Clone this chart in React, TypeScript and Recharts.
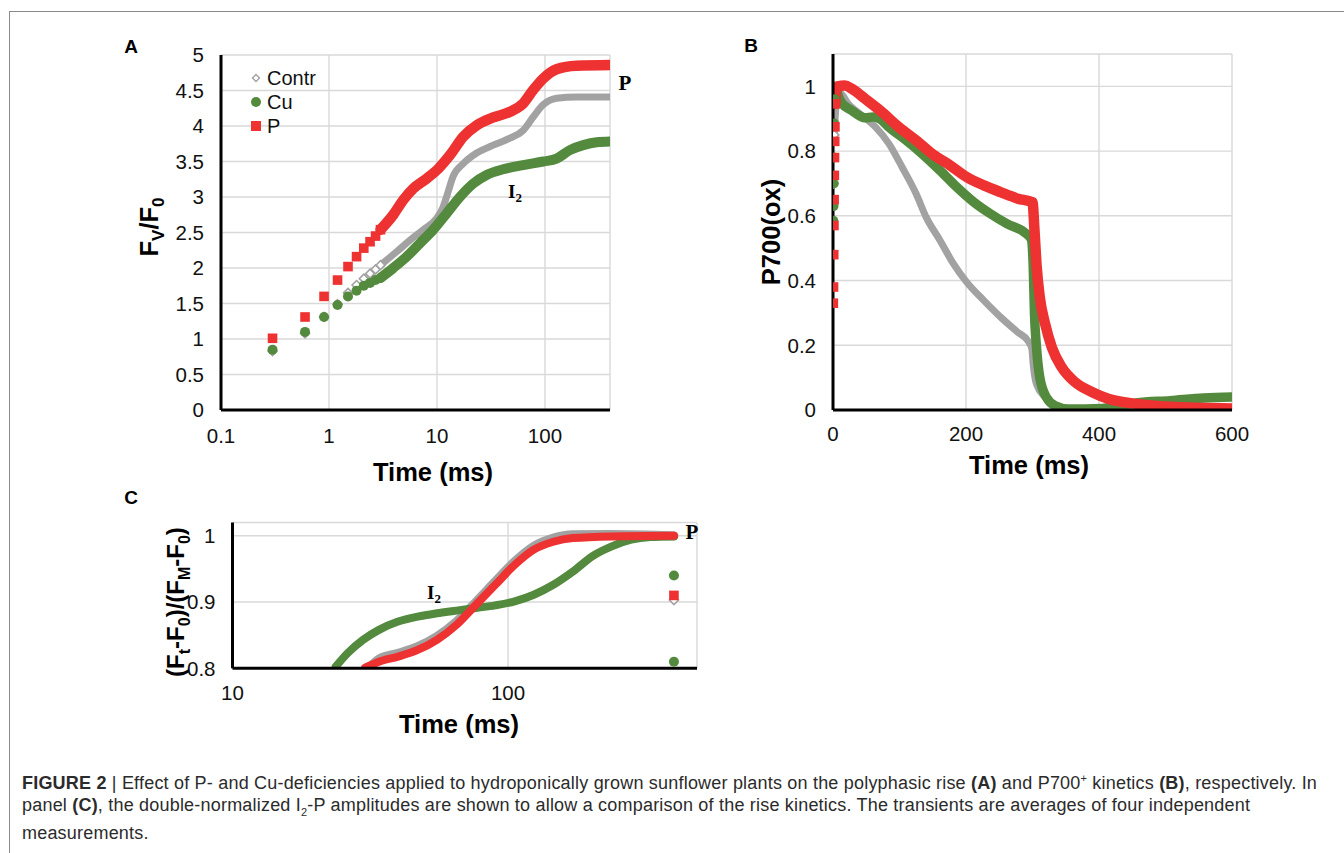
import React from 'react';
import { ComposedChart, Line, Scatter, XAxis, YAxis, CartesianGrid, Legend } from 'recharts';

const RED = '#ee3131';
const GREEN = '#538a3e';
const GRAY = '#a2a2a2';
const GRID = '#d9d9d9';
const FONT = '"Liberation Sans", Arial, Helvetica, sans-serif';
const SERIF = '"Liberation Serif", "Times New Roman", serif';

// ---------- Panel A : Fv/F0 vs time (log) ----------
const aTicksX = [0.1, 1, 10, 100];
const aTicksY = [0, 0.5, 1, 1.5, 2, 2.5, 3, 3.5, 4, 4.5, 5];
const aEarlyTime = [0.3, 0.6, 0.9, 1.2, 1.5, 1.8, 2.1, 2.4, 2.7, 3.0];
const aEarlyContr = [0.83, 1.08, 1.31, 1.49, 1.65, 1.76, 1.85, 1.92, 1.98, 2.04];
const aEarlyCu = [0.85, 1.1, 1.31, 1.48, 1.6, 1.68, 1.75, 1.79, 1.83, 1.86];
const aEarlyP = [1.01, 1.31, 1.6, 1.83, 2.02, 2.16, 2.28, 2.37, 2.45, 2.54];
const aContrCurve: [number, number][] = [
  [3.0, 2.04], [4.24, 2.23], [5.62, 2.39], [7.47, 2.54], [9.93, 2.7], [11.4, 2.86], [12.6, 3.06],
  [14.1, 3.29], [17.5, 3.47], [23.3, 3.62], [33.2, 3.73], [47.4, 3.83], [63, 3.94], [78, 4.13],
  [96.4, 4.3], [128, 4.39], [196, 4.41], [400, 4.41],
];
const aCuCurve: [number, number][] = [
  [3.0, 1.86], [3.94, 2.0], [5.24, 2.16], [6.97, 2.35], [9.25, 2.54], [12.3, 2.77], [16.3, 3.0],
  [21.7, 3.19], [28.8, 3.31], [41.1, 3.39], [63, 3.45], [96.4, 3.5], [128, 3.54], [170, 3.66],
  [226, 3.73], [301, 3.77], [400, 3.78],
];
const aPCurve: [number, number][] = [
  [3.0, 2.54], [3.94, 2.75], [4.88, 2.96], [6.04, 3.12], [8.03, 3.26], [10.3, 3.4], [13.2, 3.59],
  [17.5, 3.85], [23.3, 4.01], [33.2, 4.12], [47.4, 4.2], [63, 4.32], [78, 4.51], [96.4, 4.67],
  [128, 4.8], [196, 4.85], [400, 4.86],
];

// ---------- Panel B : P700(ox) vs time ----------
const bTicksX = [0, 200, 400, 600];
const bTicksY = [0, 0.2, 0.4, 0.6, 0.8, 1];
const bContrRise: [number, number][] = [[1.0, 0.7], [2.0, 0.85]];
const bCuRise: [number, number][] = [[0.5, 0.585], [0.8, 0.63], [1.1, 0.7], [1.4, 0.78], [1.8, 0.885], [2.5, 0.96]];
const bPRise: [number, number][] = [
  [0.5, 0.33], [0.8, 0.38], [1.1, 0.48], [1.4, 0.57], [1.7, 0.65], [2.0, 0.725], [2.3, 0.78],
  [2.6, 0.83], [2.9, 0.875], [3.5, 0.946],
];
const bContrCurve: [number, number][] = [
  [2, 0.85], [5, 0.95], [10, 0.98], [23, 0.946], [48, 0.903], [64, 0.874], [84, 0.823], [104, 0.75],
  [125, 0.668], [140, 0.596], [161, 0.524], [181, 0.452], [201, 0.395], [227, 0.338], [252, 0.287],
  [278, 0.24], [293, 0.214], [299, 0.19], [301, 0.142], [306, 0.08], [319, 0.039], [334, 0.008],
  [349, 0.0], [600, 0.0],
];
const bCuCurve: [number, number][] = [
  [2.5, 0.96], [3.6, 1.0], [8, 0.97], [12.7, 0.95], [28, 0.926], [48, 0.903], [60, 0.905], [70, 0.9],
  [84, 0.874], [110, 0.833], [135, 0.79], [161, 0.74], [186, 0.689], [212, 0.642], [237, 0.606],
  [262, 0.575], [288, 0.549], [298, 0.529], [301, 0.45], [303, 0.297], [306, 0.194], [311, 0.1],
  [321, 0.039], [334, 0.013], [354, 0.003], [405, 0.005], [456, 0.022], [507, 0.029], [558, 0.037],
  [600, 0.04],
];
const bPCurve: [number, number][] = [
  [3.5, 0.946], [4.5, 0.99], [7.6, 1.0], [17.8, 1.003], [28, 0.993], [48, 0.962], [74, 0.92],
  [99, 0.874], [125, 0.833], [150, 0.79], [176, 0.756], [201, 0.72], [227, 0.694], [252, 0.673],
  [278, 0.653], [300, 0.642], [303, 0.555], [306, 0.45], [311, 0.348], [319, 0.266], [329, 0.194],
  [344, 0.132], [364, 0.086], [390, 0.055], [415, 0.034], [456, 0.019], [507, 0.01], [600, 0.005],
];

// ---------- Panel C : double-normalized I2-P ----------
const cTicksX = [10, 100];
const cTicksY = [0.8, 0.9, 1];
const cContrCurve: [number, number][] = [
  [31.2, 0.8], [34, 0.814], [39.9, 0.8227], [47, 0.8327], [55.2, 0.848], [65, 0.8705], [76.4, 0.9],
  [89.9, 0.931], [105.7, 0.961], [124, 0.984], [146, 0.9965], [172, 1.0015], [238, 1.002], [400, 1.0],
];
const cCuCurve: [number, number][] = [
  [23.7, 0.8025], [26.2, 0.823], [29.8, 0.843], [34, 0.858], [39.9, 0.8705], [47, 0.878], [55.2, 0.883],
  [65, 0.887], [76.4, 0.891], [89.9, 0.895], [105.7, 0.901], [124, 0.911], [146, 0.926], [172, 0.946],
  [202, 0.969], [238, 0.984], [280, 0.994], [329, 0.998], [400, 0.999],
];
const cPCurve: [number, number][] = [
  [30.3, 0.801], [34, 0.81], [39.9, 0.8176], [47, 0.8277], [55.2, 0.843], [65, 0.8655], [76.4, 0.8957],
  [89.9, 0.926], [105.7, 0.956], [124, 0.979], [146, 0.991], [172, 0.9965], [238, 0.999], [400, 1.0],
];
const cContrExtra: [number, number][] = [[400, 0.903]];
const cCuExtra: [number, number][] = [[400, 0.94], [400, 0.81]];
const cPExtra: [number, number][] = [[400, 0.91]];

const toPts = (arr: [number, number][]) => arr.map(([t, v]) => ({ t, v }));
const zipPts = (ts: number[], vs: number[]) => ts.map((t, i) => ({ t, v: vs[i] }));

const tickStyle = { fill: '#111', fontSize: 20.5, fontFamily: FONT };
const axisLineStyle = { stroke: '#000', strokeWidth: 3 };

const DiamondShape = (props: any) => {
  const { cx, cy } = props;
  if (cx == null || cy == null) return null;
  const r = 4.5;
  return <path d={`M${cx},${cy - r}L${cx + r},${cy}L${cx},${cy + r}L${cx - r},${cy}Z`} fill="#fff" stroke={GRAY} strokeWidth={1.6} />;
};
const CircleShape = (props: any) => {
  const { cx, cy } = props;
  if (cx == null || cy == null) return null;
  return <circle cx={cx} cy={cy} r={5} fill={GREEN} />;
};
const SquareShape = (props: any) => {
  const { cx, cy } = props;
  if (cx == null || cy == null) return null;
  return <rect x={cx - 4.8} y={cy - 4.8} width={9.6} height={9.6} fill={RED} />;
};

const LegendA = () => (
  <div style={{ fontFamily: FONT, fontSize: 20, color: '#111', lineHeight: '24px' }}>
    {[
      { name: 'Contr', m: <path d="M6,2.5L9.5,6L6,9.5L2.5,6Z" fill="#fff" stroke={GRAY} strokeWidth={1.4} /> },
      { name: 'Cu', m: <circle cx={6} cy={6} r={5} fill={GREEN} /> },
      { name: 'P', m: <rect x={1} y={1} width={10} height={10} fill={RED} /> },
    ].map((it) => (
      <div key={it.name} style={{ display: 'flex', alignItems: 'center', height: 24 }}>
        <svg width={12} height={12} style={{ marginRight: 5 }}>{it.m}</svg>
        <span>{it.name}</span>
      </div>
    ))}
  </div>
);

const lineProps = { type: 'monotone' as const, dot: false, activeDot: false, isAnimationActive: false, strokeLinecap: 'round' as const, strokeLinejoin: 'round' as const };

const captionStyle: React.CSSProperties = {
  position: 'absolute', left: 22, fontFamily: FONT, fontSize: 18, letterSpacing: 0.2,
  color: '#2b2b2b', lineHeight: '20px', whiteSpace: 'nowrap',
};

export default function App() {
  return (
    <div style={{ position: 'absolute', left: 0, top: 0, width: 1344, height: 853, background: '#fff', overflow: 'hidden' }}>
      {/* frame */}
      <div style={{ position: 'absolute', left: 9, top: 11, width: 1340, height: 850, borderTop: '1.5px solid #8a8a8a', borderLeft: '1.5px solid #8a8a8a' }} />

      {/* Panel A */}
      <div style={{ position: 'absolute', left: 100, top: 30 }}>
        <ComposedChart width={560} height={470} margin={{ top: 25, right: 50, bottom: 30, left: 61 }}>
          <CartesianGrid stroke={GRID} strokeWidth={1.4} />
          <XAxis dataKey="t" type="number" scale="log" domain={[0.1, 400]} ticks={aTicksX} allowDataOverflow
            axisLine={axisLineStyle} tickLine={false} tickSize={0} tickMargin={18} tick={tickStyle} height={60} />
          <YAxis type="number" domain={[0, 5]} ticks={aTicksY} allowDataOverflow axisLine={axisLineStyle}
            tickLine={false} tickSize={0} tickMargin={17} tick={tickStyle} width={60} />
          <Legend layout="vertical" align="center" verticalAlign="middle" content={LegendA}
            wrapperStyle={{ left: 150, top: 35.7, width: 120, height: 75 }} />
          <Scatter name="Contr" data={zipPts(aEarlyTime, aEarlyContr)} dataKey="v" shape={DiamondShape} isAnimationActive={false} legendType="diamond" />
          <Line name="Contr" data={toPts(aContrCurve)} dataKey="v" stroke={GRAY} strokeWidth={7} {...lineProps} legendType="none" />
          <Scatter name="Cu" data={zipPts(aEarlyTime, aEarlyCu)} dataKey="v" shape={CircleShape} isAnimationActive={false} legendType="circle" />
          <Line name="Cu" data={toPts(aCuCurve)} dataKey="v" stroke={GREEN} strokeWidth={10} {...lineProps} legendType="none" />
          <Scatter name="P" data={zipPts(aEarlyTime, aEarlyP)} dataKey="v" shape={SquareShape} isAnimationActive={false} legendType="square" />
          <Line name="P" data={toPts(aPCurve)} dataKey="v" stroke={RED} strokeWidth={10.5} {...lineProps} legendType="none" />
        </ComposedChart>
      </div>

      {/* Panel B */}
      <div style={{ position: 'absolute', left: 700, top: 20 }}>
        <ComposedChart width={600} height={480} margin={{ top: 34, right: 68, bottom: 30, left: 73 }}>
          <CartesianGrid stroke={GRID} strokeWidth={1.4} />
          <XAxis dataKey="t" type="number" domain={[0, 600]} ticks={bTicksX} allowDataOverflow
            axisLine={axisLineStyle} tickLine={false} tickSize={0} tickMargin={16} tick={tickStyle} height={60} />
          <YAxis type="number" domain={[0, 1.1]} ticks={bTicksY} allowDataOverflow axisLine={axisLineStyle}
            tickLine={false} tickSize={0} tickMargin={17} tick={tickStyle} width={60} />
          <Line name="Contr" data={toPts(bContrCurve)} dataKey="v" stroke={GRAY} strokeWidth={7} {...lineProps} />
          <Scatter name="Contr" data={toPts(bContrRise)} dataKey="v" shape={DiamondShape} isAnimationActive={false} />
          <Line name="Cu" data={toPts(bCuCurve)} dataKey="v" stroke={GREEN} strokeWidth={9.5} {...lineProps} />
          <Scatter name="Cu" data={toPts(bCuRise)} dataKey="v" shape={CircleShape} isAnimationActive={false} />
          <Line name="P" data={toPts(bPCurve)} dataKey="v" stroke={RED} strokeWidth={10.5} {...lineProps} />
          <Scatter name="P" data={toPts(bPRise)} dataKey="v" shape={SquareShape} isAnimationActive={false} />
        </ComposedChart>
      </div>

      {/* Panel C */}
      <div style={{ position: 'absolute', left: 100, top: 500 }}>
        <ComposedChart width={620} height={240} margin={{ top: 22.5, right: 23, bottom: 21.7, left: 72.5 }}>
          <CartesianGrid stroke={GRID} strokeWidth={1.4} />
          <XAxis dataKey="t" type="number" scale="log" domain={[10, 485]} ticks={cTicksX} allowDataOverflow
            axisLine={axisLineStyle} tickLine={false} tickSize={0} tickMargin={17} tick={tickStyle} height={50} />
          <YAxis type="number" domain={[0.8, 1.02]} ticks={cTicksY} allowDataOverflow axisLine={axisLineStyle}
            tickLine={false} tickSize={0} tickMargin={17} tick={tickStyle} width={60} />
          <Line name="Contr" data={toPts(cContrCurve)} dataKey="v" stroke={GRAY} strokeWidth={9} {...lineProps} />
          <Scatter name="Contr" data={toPts(cContrExtra)} dataKey="v" shape={DiamondShape} isAnimationActive={false} />
          <Line name="Cu" data={toPts(cCuCurve)} dataKey="v" stroke={GREEN} strokeWidth={8} {...lineProps} />
          <Scatter name="Cu" data={toPts(cCuExtra)} dataKey="v" shape={CircleShape} isAnimationActive={false} />
          <Line name="P" data={toPts(cPCurve)} dataKey="v" stroke={RED} strokeWidth={8} {...lineProps} />
          <Scatter name="P" data={toPts(cPExtra)} dataKey="v" shape={SquareShape} isAnimationActive={false} />
        </ComposedChart>
      </div>

      {/* titles, panel letters, annotations */}
      <svg width={1344} height={853} style={{ position: 'absolute', left: 0, top: 0, pointerEvents: 'none' }}>
        <g fontFamily={FONT} fontWeight="bold" fill="#000">
          <text x={131} y={53} fontSize={19} textAnchor="middle">A</text>
          <text x={751} y={52} fontSize={19} textAnchor="middle">B</text>
          <text x={131} y={504} fontSize={19} textAnchor="middle">C</text>

          <text x={433} y={481} fontSize={25.5} textAnchor="middle">Time (ms)</text>
          <text x={1029} y={474} fontSize={25.5} textAnchor="middle">Time (ms)</text>
          <text x={459} y={733} fontSize={25.5} textAnchor="middle">Time (ms)</text>

          <text x={158} y={227} fontSize={25.5} textAnchor="middle" transform="rotate(-90 158 227)">
            F<tspan dy={6} fontSize={17}>V</tspan><tspan dy={-6}>/F</tspan><tspan dy={6} fontSize={17}>0</tspan>
          </text>
          <text x={780} y={232} fontSize={25.5} textAnchor="middle" transform="rotate(-90 780 232)">P700(ox)</text>
          <text x={184} y={602} fontSize={24} textAnchor="middle" transform="rotate(-90 184 602)">
            (F<tspan dy={6} fontSize={16}>t</tspan><tspan dy={-6}>-F</tspan><tspan dy={6} fontSize={16}>0</tspan><tspan dy={-6}>)/(F</tspan><tspan dy={6} fontSize={16}>M</tspan><tspan dy={-6}>-F</tspan><tspan dy={6} fontSize={16}>0</tspan><tspan dy={-6}>)</tspan>
          </text>
        </g>
        <g fontFamily={SERIF} fontWeight="bold" fill="#000">
          <text x={625} y={90} fontSize={21} textAnchor="middle">P</text>
          <text x={508} y={198} fontSize={19}>I<tspan dy={4} fontSize={13}>2</tspan></text>
          <text x={692} y={539} fontSize={21} textAnchor="middle">P</text>
          <text x={427} y={599} fontSize={19}>I<tspan dy={4} fontSize={13}>2</tspan></text>
        </g>
      </svg>

      {/* caption */}
      <div style={{ ...captionStyle, top: 768 }}>
        <b>FIGURE 2</b> | Effect of P- and Cu-deficiencies applied to hydroponically grown sunflower plants on the polyphasic rise <b>(A)</b> and P700<sup style={{ fontSize: 11 }}>+</sup> kinetics <b>(B)</b>, respectively. In
      </div>
      <div style={{ ...captionStyle, top: 795 }}>
        panel <b>(C)</b>, the double-normalized I<sub style={{ fontSize: 11 }}>2</sub>-P amplitudes are shown to allow a comparison of the rise kinetics. The transients are averages of four independent
      </div>
      <div style={{ ...captionStyle, top: 823 }}>
        measurements.
      </div>
    </div>
  );
}
